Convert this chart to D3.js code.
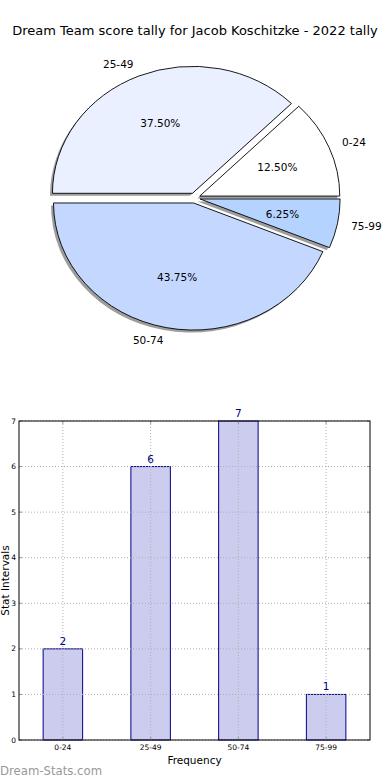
<!DOCTYPE html>
<html><head><meta charset="utf-8">
<script src="https://cdn.jsdelivr.net/npm/d3@7"></script>
<style>body{margin:0;background:#fff}svg{display:block;font-family:"DejaVu Sans",sans-serif}</style>
</head><body>
<script>
const title = "Dream Team score tally for Jacob Koschitzke - 2022 tally";
const categories = ["0-24","25-49","50-74","75-99"];
const counts = [2,6,7,1];
const pieColors = ["#ffffff","#eaf0ff","#c4d8ff","#b4d4ff"];
const yTicks = [0,1,2,3,4,5,6,7];
const xLabel = "Frequency";
const yLabel = "Stat Intervals";
const watermark = "Dream-Stats.com";

const W=390,H=780;
const svg=d3.select("body").append("svg").attr("width",W).attr("height",H);

svg.append("text").attr("x",195).attr("y",35).attr("text-anchor","middle")
  .attr("font-size",13).attr("fill","#000").text(title);

// ---- pie ----
const cx=194.6, cy=198, rx=140, ry=127, explode=0.04;
const total=d3.sum(counts);
const pieData=d3.pie().sort(null).startAngle(0).endAngle(2*Math.PI)(counts);
const arc=d3.arc().innerRadius(0).outerRadius(1);
const pg=svg.append("g");
pieData.forEach((d,i)=>{
  const t1=d.startAngle, t2=d.endAngle, mid=(t1+t2)/2;
  const dx=explode*rx*Math.cos(mid), dy=-explode*ry*Math.sin(mid);
  const path=arc({startAngle:Math.PI/2-t2,endAngle:Math.PI/2-t1});
  pg.append("path").attr("d",path)
    .attr("transform",`translate(${cx+dx-2.5},${cy+dy+2.5}) scale(${rx},${ry})`)
    .attr("fill","#4d4d4d").attr("fill-opacity",0.55).attr("stroke","none");
  d.dx=dx; d.dy=dy; d.path=path; d.mid=mid;
});
pieData.forEach((d,i)=>{
  pg.append("path").attr("d",d.path)
    .attr("transform",`translate(${cx+d.dx},${cy+d.dy}) scale(${rx},${ry})`)
    .attr("fill",pieColors[i]).attr("stroke","#000").attr("stroke-width",0.9)
    .attr("vector-effect","non-scaling-stroke").attr("stroke-linejoin","miter");
});
pieData.forEach((d,i)=>{
  const c=Math.cos(d.mid), s=Math.sin(d.mid);
  const lx=cx+d.dx+1.1*rx*c, ly=cy+d.dy-1.1*ry*s;
  pg.append("text").attr("x",lx).attr("y",ly).attr("dy","0.35em")
    .attr("text-anchor",c<0?"end":"start").attr("font-size",10.5).text(categories[i]);
  const px=cx+d.dx+0.6*rx*c, py=cy+d.dy-0.6*ry*s;
  pg.append("text").attr("x",px).attr("y",py).attr("dy","0.35em")
    .attr("text-anchor","middle").attr("font-size",10.5)
    .text((100*counts[i]/total).toFixed(2)+"%");
});

// ---- bar chart ----
const L=19,R=370,T=421,B=740;
const x=d3.scalePoint().domain(categories).range([L,R]).padding(0.5);
const y=d3.scaleLinear().domain([0,7]).range([B,T]);
const bw=x.step()*0.45;
const bg=svg.append("g");
bg.selectAll("rect.bar").data(counts).join("rect").attr("class","bar")
  .attr("x",(d,i)=>x(categories[i])-bw/2).attr("y",d=>y(d))
  .attr("width",bw).attr("height",d=>B-y(d))
  .attr("fill","#ccccee").attr("stroke","#000088").attr("stroke-width",1);
bg.selectAll("line.hg").data(yTicks).join("line")
  .attr("x1",L).attr("x2",R).attr("y1",d=>y(d)).attr("y2",d=>y(d))
  .attr("stroke","#b0b0b0").attr("stroke-dasharray","1,2").attr("stroke-width",1);
bg.selectAll("line.vg").data(categories).join("line")
  .attr("y1",T).attr("y2",B).attr("x1",d=>x(d)).attr("x2",d=>x(d))
  .attr("stroke","#b0b0b0").attr("stroke-dasharray","1,2").attr("stroke-width",1);
yTicks.forEach(t=>{
  bg.append("line").attr("x1",L).attr("x2",L+3).attr("y1",y(t)).attr("y2",y(t)).attr("stroke","#999");
  bg.append("line").attr("x1",R-3).attr("x2",R).attr("y1",y(t)).attr("y2",y(t)).attr("stroke","#999");
});
categories.forEach(c=>{
  bg.append("line").attr("x1",x(c)).attr("x2",x(c)).attr("y1",B).attr("y2",B-3).attr("stroke","#999");
  bg.append("line").attr("x1",x(c)).attr("x2",x(c)).attr("y1",T).attr("y2",T+3).attr("stroke","#999");
});
bg.append("rect").attr("x",L).attr("y",T).attr("width",R-L).attr("height",B-T)
  .attr("fill","none").attr("stroke","#000").attr("stroke-width",1);
bg.selectAll("text.yt").data(yTicks).join("text")
  .attr("x",L-3).attr("y",d=>y(d)).attr("dy","0.35em").attr("text-anchor","end")
  .attr("font-size",7.5).text(d=>d);
bg.selectAll("text.xt").data(categories).join("text")
  .attr("x",d=>x(d)).attr("y",B+10).attr("text-anchor","middle")
  .attr("font-size",7.5).text(d=>d);
bg.selectAll("text.vl").data(counts).join("text")
  .attr("x",(d,i)=>x(categories[i])).attr("y",d=>y(d)-4).attr("text-anchor","middle")
  .attr("font-size",10.5).attr("fill","#000080").text(d=>d);
svg.append("text").attr("x",(L+R)/2).attr("y",764).attr("text-anchor","middle")
  .attr("font-size",10.5).text(xLabel);
svg.append("text").attr("transform",`translate(9,${(T+B)/2}) rotate(-90)`)
  .attr("text-anchor","middle").attr("font-size",10.5).text(yLabel);
svg.append("text").attr("x",0).attr("y",775).attr("font-size",11.7)
  .attr("fill","#999").text(watermark);
</script>
</body></html>
